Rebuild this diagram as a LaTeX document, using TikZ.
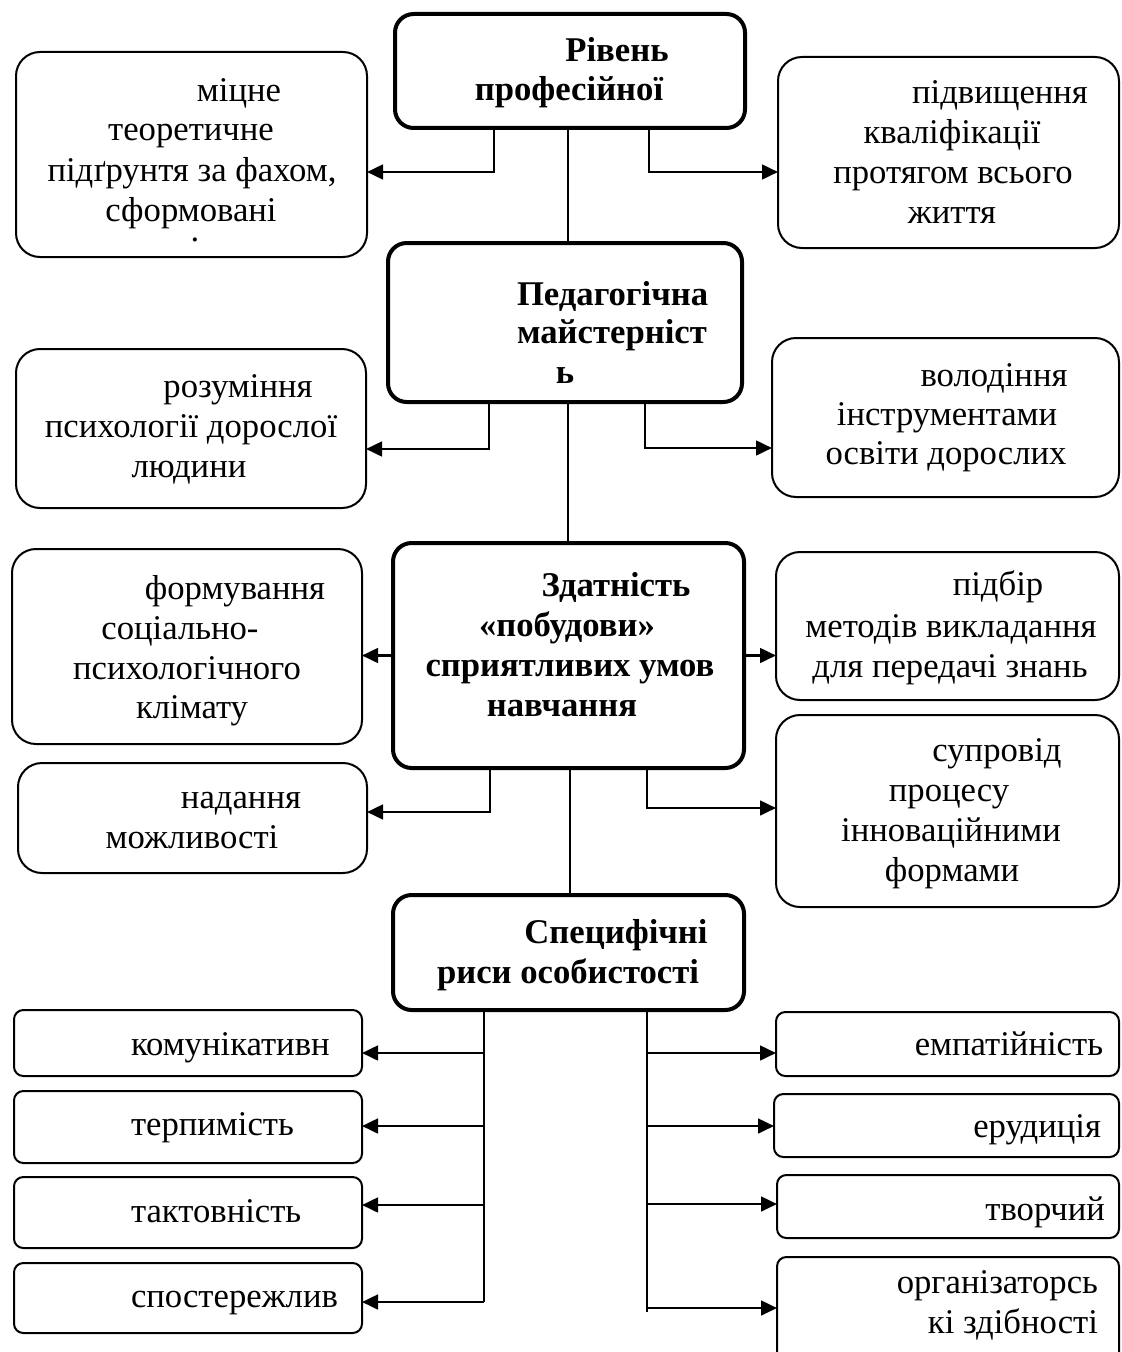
\documentclass[tikz,border=0pt]{standalone}
\usepackage{fontspec}
\setmainfont{Liberation Serif}
\usetikzlibrary{arrows.meta}
\newcommand\txtline[5][base]{\node[tx,anchor=#1] (#2) at (#3,#4) {#5};}
\newcommand\boxnode[6]{\node[#6, minimum width={(#4-#2)*0.75pt}, minimum height={(#5-#3)*0.75pt}] (#1) at ({(#2+#4)/2},{(#3+#5)/2}) {};}
\begin{document}
\begin{tikzpicture}[x=0.75pt,y=-0.75pt,
  tx/.style={font=\fontsize{26}{30}\selectfont, inner sep=0pt, outer sep=0pt},
  sidebox/.style={draw, line width=1.5pt, rounded corners=18pt, inner sep=0pt, outer sep=0pt},
  smallbox/.style={draw, line width=1.5pt, rounded corners=7pt, inner sep=0pt, outer sep=0pt},
  hubbox/.style={draw, line width=3pt, rounded corners=14pt, inner sep=0pt, outer sep=0pt},
  conn/.style={line width=1.5pt},
  arr/.style={line width=2pt, -{Triangle[length=12pt,width=11pt]}}]
\useasboundingbox (0,0) rectangle (1121,1352);
\fill[white] (0,0) rectangle (1121,1352);
\clip (0,0) rectangle (1121,1352);

% ---- boxes ----
\boxnode{B1}{395}{14}{745}{128}{hubbox}
\boxnode{L1}{16}{52}{367}{257}{sidebox}
\boxnode{R1}{778}{57}{1119}{248}{sidebox}
\boxnode{B2}{388}{243}{742}{402}{hubbox}
\boxnode{L2}{16}{349}{366}{508}{sidebox}
\boxnode{R2}{772}{338}{1119}{497}{sidebox}
\boxnode{B3}{393}{543}{744}{768}{hubbox}
\boxnode{L3}{12}{549}{362}{744}{sidebox}
\boxnode{R3}{776}{552}{1119}{700}{sidebox}
\boxnode{L4}{18}{763}{367}{873}{sidebox}
\boxnode{R4}{776}{715}{1119}{907}{sidebox}
\boxnode{B4}{393}{895}{744}{1010}{hubbox}
\boxnode{LB1}{14}{1010}{362}{1076}{smallbox}
\boxnode{LB2}{14}{1091}{362}{1163}{smallbox}
\boxnode{LB3}{14}{1177}{362}{1248}{smallbox}
\boxnode{LB4}{14}{1263}{362}{1333}{smallbox}
\boxnode{RB1}{776}{1012}{1119}{1076}{smallbox}
\boxnode{RB2}{774}{1094}{1119}{1157}{smallbox}
\boxnode{RB3}{777}{1175}{1119}{1238}{smallbox}
\boxnode{RB4}{777}{1257}{1119}{1362}{smallbox}

% ---- junction coordinates ----
\coordinate (v1) at (568,0);
\coordinate (v2) at (568,0);
\coordinate (v3) at (570,0);
\coordinate (j1l) at (494,172);
\coordinate (j1r) at (649,172);
\coordinate (j2l) at (489,449);
\coordinate (j2r) at (645,448);
\coordinate (j4l) at (490,812);
\coordinate (j4r) at (647,808);
\coordinate (bl) at (484,1302);
\coordinate (bl1) at (484,1053);
\coordinate (bl2) at (484,1126);
\coordinate (bl3) at (484,1205);
\coordinate (bl4) at (484,1302);
\coordinate (br) at (647,1312);
\coordinate (br1) at (647,1053);
\coordinate (br2) at (647,1126);
\coordinate (br3) at (647,1204);
\coordinate (br4) at (647,1308);

% ---- connectors ----
\draw[conn] (B1.south -| v1) -- (B2.north -| v1);
\draw[conn] (B2.south -| v2) -- (B3.north -| v2);
\draw[conn] (B3.south -| v3) -- (B4.north -| v3);
\draw[arr] (B1.south -| j1l) -- (j1l) -- (j1l -| L1.east);
\draw[arr] (B1.south -| j1r) -- (j1r) -- (j1r -| R1.west);
\draw[arr] (B2.south -| j2l) -- (j2l) -- (j2l -| L2.east);
\draw[arr] (B2.south -| j2r) -- (j2r) -- (j2r -| R2.west);
\draw[arr] (B3.west) -- (B3.west -| L3.east);
\draw[arr] (B3.east) -- (B3.east -| R3.west);
\draw[arr] (B3.south -| j4l) -- (j4l) -- (j4l -| L4.east);
\draw[arr] (B3.south -| j4r) -- (j4r) -- (j4r -| R4.west);
\draw[conn] (B4.south -| bl) -- (bl);
\draw[conn] (B4.south -| br) -- (br);
\draw[arr] (bl1) -- (bl1 -| LB1.east);
\draw[arr] (bl2) -- (bl2 -| LB2.east);
\draw[arr] (bl3) -- (bl3 -| LB3.east);
\draw[arr] (bl4) -- (bl4 -| LB4.east);
\draw[arr] (br1) -- (br1 -| RB1.west);
\draw[arr] (br2) -- (br2 -| RB2.west);
\draw[arr] (br3) -- (br3 -| RB3.west);
\draw[arr] (br4) -- (br4 -| RB4.west);

% ---- texts ----
\txtline{b1a}{617}{62}{\bfseries Рівень}
\txtline{b1b}{569}{101}{\bfseries професійної}

\txtline{l1a}{239}{102}{міцне}
\txtline{l1b}{191}{141}{теоретичне}
\txtline{l1c}{192}{181}{підґрунтя за фахом,}
\txtline{l1d}{191}{221}{сформовані}
\txtline{l1e}{195}{241}{.}

\txtline{r1a}{1000}{104}{підвищення}
\txtline{r1b}{952}{144}{кваліфікації}
\txtline{r1c}{953}{184}{протягом всього}
\txtline{r1d}{952}{223}{життя}

\txtline[base west]{b2a}{517}{305}{\bfseries Педагогічна}
\txtline[base west]{b2b}{517}{343}{\bfseries майстерніст}
\txtline{b2c}{565}{383}{\bfseries ь}

\txtline{l2a}{238}{397}{розуміння}
\txtline{l2b}{191}{437}{психології дорослої}
\txtline{l2c}{189}{477}{людини}

\txtline{r2a}{994}{386}{володіння}
\txtline{r2b}{947}{425}{інструментами}
\txtline{r2c}{946}{464}{освіти дорослих}

\txtline{b3a}{616}{596}{\bfseries Здатність}
\txtline{b3b}{567}{636}{\bfseries «побудови»}
\txtline{b3c}{570}{676}{\bfseries сприятливих умов}
\txtline{b3d}{562}{716}{\bfseries навчання}

\txtline{l3a}{235}{599}{формування}
\txtline{l3b}{180}{639}{соціально-}
\txtline{l3c}{187}{679}{психологічного}
\txtline{l3d}{192}{718}{клімату}

\txtline{r3a}{998}{595}{підбір}
\txtline{r3b}{951}{637}{методів викладання}
\txtline{r3c}{950}{677}{для передачі знань}

\txtline{l4a}{241}{808}{надання}
\txtline{l4b}{192}{848}{можливості}

\txtline{r4a}{997}{761}{супровід}
\txtline{r4b}{949}{801}{процесу}
\txtline{r4c}{951}{841}{інноваційними}
\txtline{r4d}{952}{881}{формами}

\txtline{b4a}{616}{943}{\bfseries Специфічні}
\txtline{b4b}{568}{983}{\bfseries риси особистості}

\txtline[base west]{lb1t}{131}{1055}{комунікативн}
\txtline[base west]{lb2t}{131}{1135}{терпимість}
\txtline[base west]{lb3t}{131}{1222}{тактовність}
\txtline[base west]{lb4t}{131}{1307}{спостережлив}

\txtline[base east]{rb1t}{1103}{1055}{емпатійність}
\txtline[base east]{rb2t}{1101}{1137}{ерудиція}
\txtline[base east]{rb3t}{1105}{1220}{творчий}
\txtline[base east]{rb4a}{1098}{1293}{організаторсь}
\txtline[base east]{rb4b}{1098}{1333}{кі здібності}
\end{tikzpicture}
\end{document}
